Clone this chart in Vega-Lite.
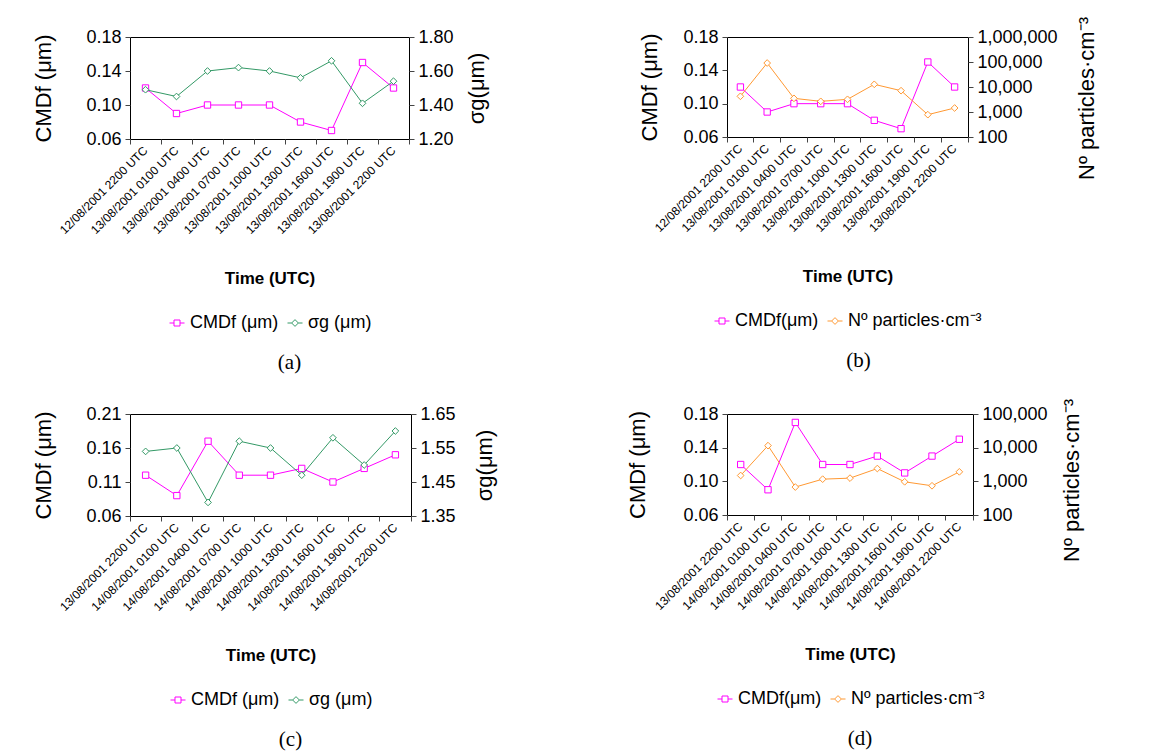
{
  "$schema": "https://vega.github.io/schema/vega-lite/v6.json",
  "autosize": "none",
  "padding": {"left": 130, "top": 37, "right": 1027, "bottom": 714},
  "background": "white",
  "datasets": {
    "a": [
      {"t": "12/08/2001 2200 UTC", "cmd": 0.12, "sg": 1.49},
      {"t": "13/08/2001 0100 UTC", "cmd": 0.09, "sg": 1.45},
      {"t": "13/08/2001 0400 UTC", "cmd": 0.10, "sg": 1.60},
      {"t": "13/08/2001 0700 UTC", "cmd": 0.10, "sg": 1.62},
      {"t": "13/08/2001 1000 UTC", "cmd": 0.10, "sg": 1.60},
      {"t": "13/08/2001 1300 UTC", "cmd": 0.08, "sg": 1.56},
      {"t": "13/08/2001 1600 UTC", "cmd": 0.07, "sg": 1.66},
      {"t": "13/08/2001 1900 UTC", "cmd": 0.15, "sg": 1.41},
      {"t": "13/08/2001 2200 UTC", "cmd": 0.12, "sg": 1.54}
    ],
    "b": [
      {"t": "12/08/2001 2200 UTC", "cmd": 0.12, "n": 4240},
      {"t": "13/08/2001 0100 UTC", "cmd": 0.09, "n": 91000},
      {"t": "13/08/2001 0400 UTC", "cmd": 0.10, "n": 3520},
      {"t": "13/08/2001 0700 UTC", "cmd": 0.10, "n": 2670},
      {"t": "13/08/2001 1000 UTC", "cmd": 0.10, "n": 3210},
      {"t": "13/08/2001 1300 UTC", "cmd": 0.08, "n": 12800},
      {"t": "13/08/2001 1600 UTC", "cmd": 0.07, "n": 7130},
      {"t": "13/08/2001 1900 UTC", "cmd": 0.15, "n": 782},
      {"t": "13/08/2001 2200 UTC", "cmd": 0.12, "n": 1445}
    ],
    "c": [
      {"t": "13/08/2001 2200 UTC", "cmd": 0.12, "sg": 1.54},
      {"t": "14/08/2001 0100 UTC", "cmd": 0.09, "sg": 1.55},
      {"t": "14/08/2001 0400 UTC", "cmd": 0.17, "sg": 1.39},
      {"t": "14/08/2001 0700 UTC", "cmd": 0.12, "sg": 1.57},
      {"t": "14/08/2001 1000 UTC", "cmd": 0.12, "sg": 1.55},
      {"t": "14/08/2001 1300 UTC", "cmd": 0.13, "sg": 1.47},
      {"t": "14/08/2001 1600 UTC", "cmd": 0.11, "sg": 1.58},
      {"t": "14/08/2001 1900 UTC", "cmd": 0.13, "sg": 1.50},
      {"t": "14/08/2001 2200 UTC", "cmd": 0.15, "sg": 1.60}
    ],
    "d": [
      {"t": "13/08/2001 2200 UTC", "cmd": 0.12, "n": 1490},
      {"t": "14/08/2001 0100 UTC", "cmd": 0.09, "n": 11500},
      {"t": "14/08/2001 0400 UTC", "cmd": 0.17, "n": 676},
      {"t": "14/08/2001 0700 UTC", "cmd": 0.12, "n": 1160},
      {"t": "14/08/2001 1000 UTC", "cmd": 0.12, "n": 1245},
      {"t": "14/08/2001 1300 UTC", "cmd": 0.13, "n": 2400},
      {"t": "14/08/2001 1600 UTC", "cmd": 0.11, "n": 968},
      {"t": "14/08/2001 1900 UTC", "cmd": 0.13, "n": 738},
      {"t": "14/08/2001 2200 UTC", "cmd": 0.15, "n": 1915}
    ]
  },
  "concat": [
    {
      "data": {"name": "a"},
      "width": 279, "height": 102,
      "title": {"text": "(a)", "dx": 20},
      "encoding": {"x": {"field": "t", "type": "ordinal", "sort": null, "scale": {"type": "band", "paddingInner": 0, "paddingOuter": 0}, "axis": {"title": "Time (UTC)", "bandPosition": 1, "tickExtra": true}}},
      "layer": [
        {
          "encoding": {"y": {"field": "cmd", "type": "quantitative", "scale": {"domain": [0.06, 0.18], "zero": false, "nice": false}, "axis": {"values": [0.06, 0.10, 0.14, 0.18], "format": ".2f", "title": "CMDf (μm)", "titlePadding": 30}}},
          "layer": [
            {"mark": {"type": "line", "strokeWidth": 1}, "encoding": {"color": {"datum": "CMDf (μm)", "type": "nominal", "scale": {"domain": ["CMDf (μm)", "σg (μm)"], "range": ["#FF00FF", "#339966"]}, "legend": {"title": null, "encode": {"symbols": {"update": {"shape": {"signal": "substring(datum.value,0,3)==='CMD' ? 'M-1,0H-0.4M0.4,0H1M-0.4,-0.4H0.4V0.4H-0.4Z' : 'M-1,0H-0.45M0.45,0H1M0,-0.45L0.45,0L0,0.45L-0.45,0Z'"}, "fill": {"value": "white"}}}}}}}},
            {"mark": {"type": "point", "shape": "square", "filled": true, "fill": "white", "stroke": "#FF00FF", "strokeWidth": 1, "size": 40, "opacity": 1}}
          ]
        },
        {
          "encoding": {"y": {"field": "sg", "type": "quantitative", "scale": {"domain": [1.2, 1.8], "zero": false, "nice": false}, "axis": {"orient": "right", "values": [1.2, 1.4, 1.6, 1.8], "format": ".2f", "title": "σg(μm)", "titleAngle": 270, "titleBaseline": "top", "titlePadding": 13}}},
          "layer": [
            {"mark": {"type": "line", "strokeWidth": 1}, "encoding": {"color": {"datum": "σg (μm)", "type": "nominal"}}},
            {"mark": {"type": "point", "shape": "diamond", "filled": true, "fill": "white", "stroke": "#339966", "strokeWidth": 1, "size": 45, "opacity": 1}}
          ]
        }
      ],
      "resolve": {"scale": {"y": "independent"}}
    },
    {
      "data": {"name": "b"},
      "width": 241, "height": 100,
      "title": {"text": "(b)", "dx": 11},
      "encoding": {"x": {"field": "t", "type": "ordinal", "sort": null, "scale": {"type": "band", "paddingInner": 0, "paddingOuter": 0}, "axis": {"title": "Time (UTC)", "bandPosition": 1, "tickExtra": true}}},
      "layer": [
        {
          "encoding": {"y": {"field": "cmd", "type": "quantitative", "scale": {"domain": [0.06, 0.18], "zero": false, "nice": false}, "axis": {"values": [0.06, 0.10, 0.14, 0.18], "format": ".2f", "title": "CMDf (μm)", "titlePadding": 21}}},
          "layer": [
            {"mark": {"type": "line", "strokeWidth": 1}, "encoding": {"color": {"datum": "CMDf(μm)", "type": "nominal", "scale": {"domain": ["CMDf(μm)", "Nº particles·cm⁻³"], "range": ["#FF00FF", "#FF9933"]}, "legend": {"title": null, "encode": {"symbols": {"update": {"shape": {"signal": "substring(datum.value,0,3)==='CMD' ? 'M-1,0H-0.4M0.4,0H1M-0.4,-0.4H0.4V0.4H-0.4Z' : 'M-1,0H-0.45M0.45,0H1M0,-0.45L0.45,0L0,0.45L-0.45,0Z'"}, "fill": {"value": "white"}}}}}}}},
            {"mark": {"type": "point", "shape": "square", "filled": true, "fill": "white", "stroke": "#FF00FF", "strokeWidth": 1, "size": 40, "opacity": 1}}
          ]
        },
        {
          "encoding": {"y": {"field": "n", "type": "quantitative", "scale": {"type": "log", "domain": [100, 1000000], "nice": false}, "axis": {"orient": "right", "values": [100, 1000, 10000, 100000, 1000000], "format": ",d", "title": "Nº particles·cm⁻³", "titleAngle": 270, "titleBaseline": "top", "titlePadding": 19, "titleY": 61}}},
          "layer": [
            {"mark": {"type": "line", "strokeWidth": 1}, "encoding": {"color": {"datum": "Nº particles·cm⁻³", "type": "nominal"}}},
            {"mark": {"type": "point", "shape": "diamond", "filled": true, "fill": "white", "stroke": "#FF9933", "strokeWidth": 1, "size": 45, "opacity": 1}}
          ]
        }
      ],
      "resolve": {"scale": {"y": "independent"}}
    },
    {
      "data": {"name": "c"},
      "width": 281, "height": 102,
      "title": {"text": "(c)", "dx": 20},
      "encoding": {"x": {"field": "t", "type": "ordinal", "sort": null, "scale": {"type": "band", "paddingInner": 0, "paddingOuter": 0}, "axis": {"title": "Time (UTC)", "bandPosition": 1, "tickExtra": true}}},
      "layer": [
        {
          "encoding": {"y": {"field": "cmd", "type": "quantitative", "scale": {"domain": [0.06, 0.21], "zero": false, "nice": false}, "axis": {"values": [0.06, 0.11, 0.16, 0.21], "format": ".2f", "title": "CMDf (μm)", "titlePadding": 30}}},
          "layer": [
            {"mark": {"type": "line", "strokeWidth": 1}, "encoding": {"color": {"datum": "CMDf (μm)", "type": "nominal", "scale": {"domain": ["CMDf (μm)", "σg (μm)"], "range": ["#FF00FF", "#339966"]}, "legend": {"title": null, "encode": {"symbols": {"update": {"shape": {"signal": "substring(datum.value,0,3)==='CMD' ? 'M-1,0H-0.4M0.4,0H1M-0.4,-0.4H0.4V0.4H-0.4Z' : 'M-1,0H-0.45M0.45,0H1M0,-0.45L0.45,0L0,0.45L-0.45,0Z'"}, "fill": {"value": "white"}}}}}}}},
            {"mark": {"type": "point", "shape": "square", "filled": true, "fill": "white", "stroke": "#FF00FF", "strokeWidth": 1, "size": 40, "opacity": 1}}
          ]
        },
        {
          "encoding": {"y": {"field": "sg", "type": "quantitative", "scale": {"domain": [1.35, 1.65], "zero": false, "nice": false}, "axis": {"orient": "right", "values": [1.35, 1.45, 1.55, 1.65], "format": ".2f", "title": "σg(μm)", "titleAngle": 270, "titleBaseline": "top", "titlePadding": 19}}},
          "layer": [
            {"mark": {"type": "line", "strokeWidth": 1}, "encoding": {"color": {"datum": "σg (μm)", "type": "nominal"}}},
            {"mark": {"type": "point", "shape": "diamond", "filled": true, "fill": "white", "stroke": "#339966", "strokeWidth": 1, "size": 45, "opacity": 1}}
          ]
        }
      ],
      "resolve": {"scale": {"y": "independent"}}
    },
    {
      "data": {"name": "d"},
      "width": 246, "height": 101,
      "title": {"text": "(d)", "dx": 10},
      "encoding": {"x": {"field": "t", "type": "ordinal", "sort": null, "scale": {"type": "band", "paddingInner": 0, "paddingOuter": 0}, "axis": {"title": "Time (UTC)", "bandPosition": 1, "tickExtra": true}}},
      "layer": [
        {
          "encoding": {"y": {"field": "cmd", "type": "quantitative", "scale": {"domain": [0.06, 0.18], "zero": false, "nice": false}, "axis": {"values": [0.06, 0.10, 0.14, 0.18], "format": ".2f", "title": "CMDf (μm)", "titlePadding": 33}}},
          "layer": [
            {"mark": {"type": "line", "strokeWidth": 1}, "encoding": {"color": {"datum": "CMDf(μm)", "type": "nominal", "scale": {"domain": ["CMDf(μm)", "Nº particles·cm⁻³"], "range": ["#FF00FF", "#FF9933"]}, "legend": {"title": null, "encode": {"symbols": {"update": {"shape": {"signal": "substring(datum.value,0,3)==='CMD' ? 'M-1,0H-0.4M0.4,0H1M-0.4,-0.4H0.4V0.4H-0.4Z' : 'M-1,0H-0.45M0.45,0H1M0,-0.45L0.45,0L0,0.45L-0.45,0Z'"}, "fill": {"value": "white"}}}}}}}},
            {"mark": {"type": "point", "shape": "square", "filled": true, "fill": "white", "stroke": "#FF00FF", "strokeWidth": 1, "size": 40, "opacity": 1}}
          ]
        },
        {
          "encoding": {"y": {"field": "n", "type": "quantitative", "scale": {"type": "log", "domain": [100, 100000], "nice": false}, "axis": {"orient": "right", "values": [100, 1000, 10000, 100000], "format": ",d", "title": "Nº particles·cm⁻³", "titleAngle": 270, "titleBaseline": "top", "titlePadding": 14, "titleY": 66}}},
          "layer": [
            {"mark": {"type": "line", "strokeWidth": 1}, "encoding": {"color": {"datum": "Nº particles·cm⁻³", "type": "nominal"}}},
            {"mark": {"type": "point", "shape": "diamond", "filled": true, "fill": "white", "stroke": "#FF9933", "strokeWidth": 1, "size": 45, "opacity": 1}}
          ]
        }
      ],
      "resolve": {"scale": {"y": "independent"}}
    }
  ],
  "columns": 2,
  "spacing": {"row": 275, "column": 316},
  "bounds": "flush",
  "align": "all",
  "resolve": {"scale": {"x": "independent", "y": "independent", "color": "independent"}, "legend": {"color": "independent"}},
  "config": {
    "font": "Liberation Sans",
    "view": {"stroke": "black", "strokeWidth": 1},
    "axis": {"grid": false, "domain": false, "ticks": true, "tickColor": "#444444", "tickSize": 5, "labelColor": "black", "labelFont": "Liberation Sans", "titleFont": "Liberation Sans", "titleColor": "black", "titleFontWeight": "normal"},
    "axisY": {"labelFontSize": 18, "titleFontSize": 22, "labelPadding": 4},
    "axisX": {"labelFontSize": 12, "labelAngle": -45, "labelAlign": "right", "labelBaseline": "middle", "labelPadding": 4, "titleFontSize": 17, "titleFontWeight": "bold", "titlePadding": 35, "labelOverlap": false},
    "legend": {"orient": "bottom", "direction": "horizontal", "labelFontSize": 18, "labelFont": "Liberation Sans", "labelColor": "black", "symbolSize": 225, "symbolStrokeWidth": 1, "offset": 27, "columnPadding": 6, "layout": {"bottom": {"anchor": "middle"}}},
    "title": {"orient": "bottom", "font": "Liberation Serif", "fontSize": 21, "fontWeight": "normal", "color": "black", "offset": 20}
  }
}
